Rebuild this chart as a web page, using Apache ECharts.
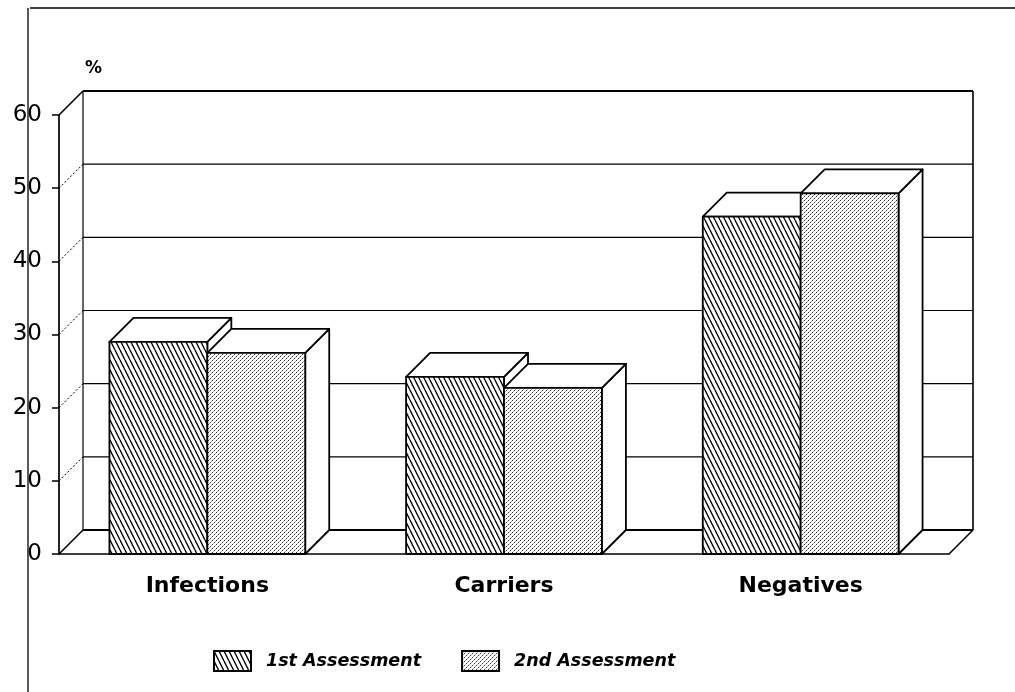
<!DOCTYPE html>
<html><head><meta charset="utf-8">
<script src="https://cdn.jsdelivr.net/npm/echarts@6/dist/echarts.min.js"></script>
<style>html,body{margin:0;padding:0;background:#fff}#chart{width:1015px;height:692px}</style>
</head><body><div id="chart"></div>
<script>
// ---- data ----
const categories = ['Infections', 'Carriers', 'Negatives'];
const seriesNames = ['1st Assessment', '2nd Assessment'];
const firstAssessment = [29.0, 24.2, 46.1];
const secondAssessment = [27.5, 22.7, 49.3];
const yTicks = [0, 10, 20, 30, 40, 50, 60];

// ---- styling constants ----
const DX = 24, DY = -24;      // oblique depth offset
const BAR_FRAC = 0.33;        // bar width as fraction of band

function makeHatch() {
  const c = document.createElement('canvas');
  c.width = 5; c.height = 10;
  const g = c.getContext('2d');
  g.fillStyle = '#fff'; g.fillRect(0, 0, 5, 10);
  g.strokeStyle = '#000'; g.lineWidth = 1.3;
  [-5, 0, 5].forEach(o => { g.beginPath(); g.moveTo(o, 0); g.lineTo(o + 5, 10); g.stroke(); });
  return c;
}
function makeStipple() {
  const c = document.createElement('canvas');
  c.width = 4; c.height = 4;
  const g = c.getContext('2d');
  g.fillStyle = '#fff'; g.fillRect(0, 0, 4, 4);
  g.fillStyle = '#333'; g.fillRect(0, 0, 1, 1); g.fillRect(2, 2, 1, 1);
  g.fillStyle = '#aaa'; g.fillRect(1, 3, 1, 1); g.fillRect(3, 1, 1, 1);
  return c;
}
const hatchPattern = { image: makeHatch(), repeat: 'repeat' };
const stipplePattern = { image: makeStipple(), repeat: 'repeat' };
const patterns = [hatchPattern, stipplePattern];

function barRender(side) {
  return function (params, api) {
    const cat = api.value(0), v = api.value(1);
    const top = api.coord([cat, v]);
    const base = api.coord([cat, 0]);
    const band = api.size([1, 0])[0];
    const w = band * BAR_FRAC;
    const x1 = side === 0 ? base[0] - w : base[0];
    const x2 = x1 + w;
    const yT = top[1], yB = base[1];
    const st = (fill) => ({ fill: fill, stroke: '#000', lineWidth: 1.8, lineJoin: 'round' });
    return {
      type: 'group',
      children: [
        { type: 'polygon', shape: { points: [[x2, yT], [x2 + DX, yT + DY], [x2 + DX, yB + DY], [x2, yB]] }, style: st('#fff') },
        { type: 'polygon', shape: { points: [[x1, yT], [x1 + DX, yT + DY], [x2 + DX, yT + DY], [x2, yT]] }, style: st('#fff') },
        { type: 'rect', shape: { x: x1, y: yT, width: w, height: yB - yT }, style: st(patterns[side]) }
      ]
    };
  };
}

function wallRender(params, api) {
  const cs = params.coordSys;
  const v = api.value(1);
  const y = api.coord([0, v])[1];
  const yTop = api.coord([0, yTicks[yTicks.length - 1]])[1];
  const yBot = api.coord([0, yTicks[0]])[1];
  const xl = cs.x, xr = cs.x + cs.width;
  const isEdge = (v === yTicks[0] || v === yTicks[yTicks.length - 1]);
  const children = [
    { type: 'line', shape: { x1: xl, y1: y, x2: xl + DX, y2: y + DY },
      style: { stroke: '#000', lineWidth: isEdge ? 1.6 : 1, lineDash: isEdge ? null : [2, 2] } },
    { type: 'line', shape: { x1: xl + DX, y1: y + DY, x2: xr + DX, y2: y + DY },
      style: { stroke: '#000', lineWidth: isEdge ? 1.8 : 1.2 } }
  ];
  if (v === yTicks[0]) {
    children.push(
      { type: 'line', shape: { x1: xr, y1: yBot, x2: xr + DX, y2: yBot + DY }, style: { stroke: '#000', lineWidth: 1.6 } },
      { type: 'line', shape: { x1: xl + DX, y1: yBot + DY, x2: xl + DX, y2: yTop + DY }, style: { stroke: '#000', lineWidth: 1.2 } },
      { type: 'line', shape: { x1: xr + DX, y1: yBot + DY, x2: xr + DX, y2: yTop + DY }, style: { stroke: '#000', lineWidth: 1.6 } }
    );
  }
  return { type: 'group', children: children };
}

const chart = echarts.init(document.getElementById('chart'), null, { renderer: 'canvas' });
const option = {
  animation: false,
  backgroundColor: '#fff',
  grid: { left: 59, right: 66, top: 115, bottom: 138 },
  xAxis: {
    type: 'category',
    data: categories,
    axisLine: { lineStyle: { color: '#000', width: 1.7 } },
    axisTick: { alignWithLabel: true, length: 10, lineStyle: { color: '#000', width: 1.4 } },
    axisLabel: { color: '#000', fontFamily: 'DejaVu Sans', fontWeight: 'bold', fontSize: 22, margin: 21 },
    splitLine: { show: false }
  },
  yAxis: {
    type: 'value', min: 0, max: 60, interval: 10,
    name: '%',
    nameGap: 38,
    nameTextStyle: { color: '#000', fontFamily: 'DejaVu Sans', fontWeight: 'bold', fontSize: 17, align: 'left', padding: [0, 0, 0, 26] },
    axisLine: { show: true, lineStyle: { color: '#000', width: 1.7 } },
    axisTick: { show: true, length: 7, lineStyle: { color: '#000', width: 1.5 } },
    axisLabel: { color: '#000', fontFamily: 'DejaVu Sans', fontSize: 23, margin: 17 },
    splitLine: { show: false }
  },
  legend: {
    data: seriesNames,
    left: 213, top: 650, padding: 0,
    icon: 'rect',
    itemWidth: 37, itemHeight: 20, itemGap: 40,
    textStyle: { color: '#000', fontFamily: 'DejaVu Sans', fontWeight: 'bold', fontStyle: 'italic', fontSize: 17.5, padding: [0, 0, 0, 10] }
  },
  graphic: [
    { type: 'line', shape: { x1: 30, y1: 8, x2: 1015, y2: 8 }, style: { stroke: '#000', lineWidth: 1.6 }, z: 0 },
    { type: 'line', shape: { x1: 28, y1: 8, x2: 28, y2: 692 }, style: { stroke: '#000', lineWidth: 1.3 }, z: 0 }
  ],
  series: [
    { type: 'custom', name: 'walls', silent: true, clip: false, z: 1,
      renderItem: wallRender, data: yTicks.map(v => [0, v]), tooltip: { show: false } },
    { type: 'custom', name: seriesNames[0], clip: false, z: 3,
      itemStyle: { color: hatchPattern, borderColor: '#000', borderWidth: 1.5 },
      renderItem: barRender(0), data: firstAssessment.map((v, i) => [i, v]) },
    { type: 'custom', name: seriesNames[1], clip: false, z: 3,
      itemStyle: { color: stipplePattern, borderColor: '#000', borderWidth: 1.5 },
      renderItem: barRender(1), data: secondAssessment.map((v, i) => [i, v]) }
  ]
};
chart.setOption(option);
</script></body></html>
